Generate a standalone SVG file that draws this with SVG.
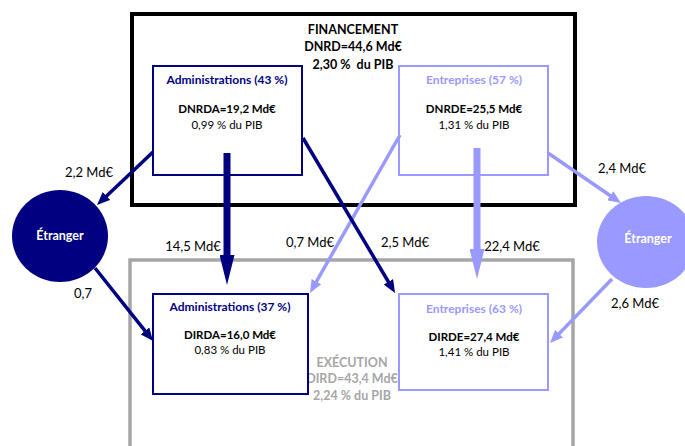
<svg xmlns="http://www.w3.org/2000/svg" width="685" height="446" viewBox="0 0 685 446">
<style>
text{font-family:Lato,"Open Sans","Liberation Sans",sans-serif;text-anchor:middle}
.t{font-size:12.5px;font-weight:bold;fill:#000;white-space:pre}
.h{font-size:12px;font-weight:bold}
.b{font-size:11.5px;font-weight:bold;fill:#000}
.n{font-size:11.5px;fill:#000}
.lbl{font-size:13px;fill:#000}
.ex{font-size:12.5px;font-weight:bold;fill:#A6A6A6}
.et{font-size:12.5px;font-weight:bold;fill:#fff}
.box{fill:#fff;stroke-width:2}
.nv{stroke:#000080}
.pp{stroke:#9999FF}
.thin{stroke-width:3.5;fill:none}
.thick{stroke-width:7;fill:none}
</style>
<defs>
<marker id="hn" markerUnits="userSpaceOnUse" markerWidth="13" markerHeight="11" refX="2" refY="5.5" orient="auto"><path d="M0,0 L13,5.5 L0,11 z" fill="#000080"/></marker>
<marker id="hp" markerUnits="userSpaceOnUse" markerWidth="13" markerHeight="11" refX="2" refY="5.5" orient="auto"><path d="M0,0 L13,5.5 L0,11 z" fill="#9999FF"/></marker>
<marker id="Hn" markerUnits="userSpaceOnUse" markerWidth="30" markerHeight="15" refX="2" refY="7.5" orient="auto"><path d="M0,0 L30,7.5 L0,15 z" fill="#000080"/></marker>
<marker id="Hp" markerUnits="userSpaceOnUse" markerWidth="30" markerHeight="15" refX="2" refY="7.5" orient="auto"><path d="M0,0 L30,7.5 L0,15 z" fill="#9999FF"/></marker>
</defs>
<rect width="685" height="446" fill="#fff"/>
<g id="execution">
<rect x="130" y="260" width="443" height="200" fill="none" stroke="#A6A6A6" stroke-width="3.5"/>
<text class="ex" x="352" y="367">EXÉCUTION</text>
<text class="ex" x="352" y="383">DIRD=43,4 Md€</text>
<text class="ex" x="352" y="400">2,24 % du PIB</text>
</g>
<g id="financement">
<rect x="132" y="14" width="443" height="191" fill="none" stroke="#000" stroke-width="4"/>
<text class="t" x="353" y="34">FINANCEMENT</text>
<text class="t" x="353" y="51">DNRD=44,6 Md€</text>
<text class="t" x="353" y="69" xml:space="preserve">2,30 %  du PIB</text>
</g>
<g id="fin-admin">
<rect class="box nv" x="153" y="66" width="149" height="109"/>
<text class="h" x="227" y="84" fill="#000080">Administrations (43 %)</text>
<text class="b" x="227" y="113">DNRDA=19,2 Md€</text>
<text class="n" x="227" y="129">0,99 % du PIB</text>
</g>
<g id="fin-entreprises">
<rect class="box pp" x="399" y="66" width="149" height="109"/>
<text class="h" x="474" y="84" fill="#9999FF">Entreprises (57 %)</text>
<text class="b" x="474" y="113">DNRDE=25,5 Md€</text>
<text class="n" x="474" y="129">1,31 % du PIB</text>
</g>
<g id="exe-admin">
<rect class="box nv" x="153" y="294" width="155" height="100"/>
<text class="h" x="230" y="311" fill="#000080">Administrations (37 %)</text>
<text class="b" x="230" y="339">DIRDA=16,0 Md€</text>
<text class="n" x="230" y="354">0,83 % du PIB</text>
</g>
<g id="exe-entreprises">
<rect class="box pp" x="399" y="294" width="149" height="96"/>
<text class="h" x="474" y="313" fill="#9999FF">Entreprises (63 %)</text>
<text class="b" x="474" y="341">DIRDE=27,4 Md€</text>
<text class="n" x="474" y="356">1,41 % du PIB</text>
</g>
<g id="etranger-gauche">
<ellipse cx="60" cy="236" rx="48" ry="46" fill="#000080"/>
<text class="et" x="60" y="240">Étranger</text>
</g>
<g id="etranger-droite">
<ellipse cx="646" cy="242" rx="49" ry="46" fill="#9999FF"/>
<text class="et" x="648" y="243">Étranger</text>
</g>
<g id="connectors">
<line class="thin nv" x1="153" y1="152" x2="105" y2="197.4" marker-end="url(#hn)"/>
<line class="thick nv" x1="227" y1="153" x2="227" y2="257" marker-end="url(#Hn)"/>
<line class="thin pp" x1="400" y1="135" x2="315.4" y2="283.4" marker-end="url(#hp)"/>
<line class="thin nv" x1="303" y1="138" x2="389.4" y2="283.5" marker-end="url(#hn)"/>
<line class="thick pp" x1="477" y1="148" x2="477" y2="251" marker-end="url(#Hp)"/>
<line class="thin pp" x1="548" y1="153" x2="611.9" y2="196.8" marker-end="url(#hp)"/>
<line class="thin nv" x1="95" y1="268" x2="146.2" y2="332.4" marker-end="url(#hn)"/>
<line class="thin pp" x1="612" y1="279" x2="557.7" y2="335.1" marker-end="url(#hp)"/>
<text class="lbl" x="89" y="177">2,2 Md€</text>
<text class="lbl" x="193" y="251">14,5 Md€</text>
<text class="lbl" x="83" y="298">0,7</text>
<text class="lbl" x="310" y="247">0,7 Md€</text>
<text class="lbl" x="405" y="247">2,5 Md€</text>
<text class="lbl" x="512" y="251">22,4 Md€</text>
<text class="lbl" x="622" y="173">2,4 Md€</text>
<text class="lbl" x="635" y="308">2,6 Md€</text>
</g>
</svg>
